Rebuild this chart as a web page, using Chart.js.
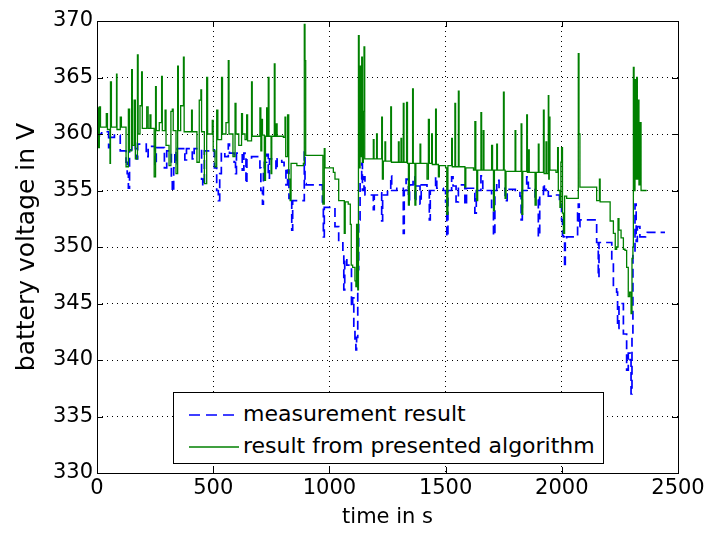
<!DOCTYPE html>
<html>
<head>
<meta charset="utf-8">
<title>battery voltage</title>
<script src="https://cdn.jsdelivr.net/npm/chart.js@4"></script>
<style>
  body { margin: 0; background: #fff; }
  #wrap { position: relative; width: 709px; height: 534px; }
  #legend {
    position: absolute; left: 173px; top: 392px; width: 431px; height: 72px;
    box-sizing: border-box; border: 1px solid #000; background: #fff;
    font-family: "DejaVu Sans", sans-serif; font-size: 22px; color: #000;
  }
  #legend .row { position: absolute; left: 0; height: 30px; line-height: 30px; white-space: nowrap; }
  #legend svg { position: absolute; left: 14px; top: 14px; }
  #legend span { position: absolute; left: 69px; top: 0px; }
</style>
</head>
<body>
<div id="wrap">
  <canvas id="voltChart" width="709" height="534"></canvas>
  <div id="legend">
    <div class="row" style="top:6px">
      <svg width="52" height="4"><line x1="1" y1="2" x2="51" y2="2" stroke="#0000ff" stroke-width="1.5" stroke-dasharray="11,6"/></svg>
      <span>measurement result</span>
    </div>
    <div class="row" style="top:38px">
      <svg width="52" height="4"><line x1="1" y1="2" x2="51" y2="2" stroke="#008000" stroke-width="1.3"/></svg>
      <span>result from presented algorithm</span>
    </div>
  </div>
</div>
<script>
// measured pack voltage (V) over time (s)
const measTime = [
  0, 10, 20, 45, 50, 55, 75, 95, 100, 125, 130, 135, 140, 150, 165, 170, 175, 205, 212, 220,
  245, 250, 255, 285, 290, 300, 320, 324, 330, 335, 340, 345, 370, 378, 385, 405, 410, 418, 450, 455,
  462, 480, 496, 505, 515, 522, 528, 535, 550, 565, 570, 590, 596, 600, 620, 625, 632, 637, 641, 645,
  665, 690, 701, 705, 712, 716, 720, 730, 737, 742, 763, 770, 775, 795, 805, 813, 820, 826, 831, 838,
  842, 885, 892, 895, 900, 960, 970, 974, 978, 1017, 1024, 1040, 1058, 1062, 1066, 1075, 1090, 1095, 1100, 1105,
  1110, 1114, 1117, 1122, 1126, 1132, 1139, 1142, 1149, 1153, 1185, 1189, 1193, 1220, 1225, 1229, 1250, 1264, 1268, 1290,
  1310, 1318, 1322, 1330, 1340, 1345, 1360, 1368, 1372, 1390, 1395, 1420, 1430, 1434, 1457, 1462, 1490, 1500, 1505, 1510,
  1526, 1532, 1545, 1555, 1583, 1590, 1620, 1626, 1632, 1652, 1660, 1690, 1698, 1706, 1712, 1720, 1730, 1756, 1765, 1800,
  1820, 1825, 1830, 1849, 1856, 1885, 1899, 1905, 1921, 1925, 1932, 1942, 1960, 1975, 1990, 1999, 2003, 2007, 2012, 2015,
  2021, 2060, 2068, 2071, 2075, 2078, 2100, 2143, 2150, 2157, 2160, 2205, 2215, 2222, 2236, 2240, 2246, 2258, 2265, 2279,
  2286, 2294, 2298, 2302, 2306, 2315, 2320, 2325, 2336, 2350, 2360, 2368, 2444
];
const measVolt = [
  359.8, 360.0, 360.2, 360.2, 358.8, 359.7, 359.9, 359.9, 358.5, 357.5, 356.5, 355.2, 358.6, 359.2, 358.7, 357.8, 359.1, 359.1, 358.0, 358.9,
  358.9, 357.2, 358.8, 358.8, 357.0, 358.5, 356.0, 354.9, 357.0, 358.5, 357.3, 358.7, 358.7, 357.7, 358.7, 358.7, 357.8, 358.7, 356.0, 355.4,
  358.5, 358.6, 358.6, 357.0, 355.0, 354.1, 356.5, 358.4, 358.0, 359.1, 358.3, 357.5, 356.5, 358.3, 358.3, 356.8, 358.3, 358.1, 355.6, 357.8,
  358.0, 358.0, 357.0, 355.0, 353.8, 356.5, 357.5, 358.2, 356.1, 357.8, 357.8, 356.8, 357.8, 357.5, 357.0, 355.5, 356.8, 354.3, 354.5, 351.5,
  354.1, 354.1, 358.4, 355.6, 355.5, 355.5, 354.0, 350.9, 353.5, 353.5, 351.8, 350.5, 349.4, 346.2, 349.0, 348.4, 348.4, 344.7, 345.5, 343.0,
  341.7, 340.9, 342.0, 348.0, 352.4, 356.0, 357.4, 355.0, 356.2, 354.6, 354.6, 353.3, 354.6, 354.8, 352.3, 354.6, 355.0, 356.3, 355.0, 355.2,
  355.2, 351.2, 355.0, 356.0, 354.2, 355.5, 356.2, 354.0, 355.4, 353.8, 355.5, 355.1, 352.4, 355.0, 356.2, 355.2, 355.0, 354.0, 350.9, 355.0,
  356.2, 355.4, 354.0, 355.5, 353.7, 355.2, 355.0, 353.0, 355.0, 356.3, 355.0, 355.0, 353.5, 351.0, 355.0, 355.9, 355.2, 354.1, 355.1, 355.0,
  354.5, 352.4, 355.0, 356.2, 355.2, 354.2, 350.9, 354.5, 355.6, 355.0, 355.2, 354.5, 354.6, 354.6, 354.0, 352.4, 351.0, 350.9, 348.2, 350.5,
  350.9, 350.9, 353.0, 353.8, 351.8, 352.4, 352.4, 352.3, 350.4, 347.3, 350.4, 350.4, 348.8, 346.5, 346.0, 342.8, 345.0, 345.0, 342.3, 339.1,
  340.6, 340.0, 337.0, 342.0, 349.4, 353.8, 350.5, 351.8, 350.9, 350.9, 351.0, 351.3, 351.3
];

// voltage from the estimation algorithm
const algTime = [
  0, 3, 6, 10, 15, 30, 40, 45, 56, 58, 62, 84, 86, 100, 105, 125, 135, 140, 149, 152,
  160, 165, 174, 177, 185, 192, 195, 214, 220, 228, 232, 246, 252, 255, 268, 278, 281, 293, 297, 310,
  318, 324, 328, 340, 347, 350, 360, 372, 375, 395, 407, 410, 430, 440, 447, 450, 462, 472, 476, 496,
  500, 508, 515, 520, 536, 540, 555, 565, 568, 585, 594, 598, 610, 622, 626, 637, 644, 648, 665, 668,
  701, 705, 709, 712, 720, 725, 730, 733, 737, 740, 749, 752, 763, 766, 770, 775, 802, 809, 812, 820,
  825, 831, 835, 860, 888, 892, 895, 898, 968, 972, 978, 981, 1017, 1024, 1040, 1062, 1064, 1068, 1081, 1090,
  1094, 1100, 1110, 1114, 1117, 1122, 1125, 1128, 1132, 1135, 1139, 1142, 1146, 1149, 1152, 1189, 1192, 1203, 1206, 1225,
  1228, 1232, 1239, 1242, 1264, 1267, 1297, 1300, 1308, 1311, 1318, 1321, 1332, 1336, 1340, 1344, 1358, 1361, 1368, 1372,
  1390, 1393, 1420, 1426, 1430, 1440, 1443, 1457, 1460, 1469, 1473, 1500, 1505, 1510, 1526, 1529, 1540, 1543, 1555, 1558,
  1583, 1587, 1620, 1626, 1630, 1634, 1638, 1652, 1655, 1662, 1665, 1698, 1702, 1706, 1710, 1720, 1723, 1749, 1752, 1756,
  1760, 1799, 1802, 1825, 1828, 1832, 1849, 1852, 1856, 1860, 1885, 1890, 1899, 1902, 1921, 1924, 1932, 1935, 1942, 1944,
  1946, 1949, 1975, 1982, 1985, 1992, 1996, 1999, 2003, 2007, 2012, 2021, 2068, 2071, 2074, 2078, 2143, 2150, 2157, 2162,
  2165, 2205, 2208, 2215, 2222, 2230, 2236, 2242, 2246, 2255, 2265, 2272, 2279, 2286, 2292, 2298, 2302, 2306, 2308, 2311,
  2315, 2318, 2322, 2325, 2329, 2332, 2336, 2341, 2365
];
const algVolt = [
  360.0, 362.3, 358.8, 362.4, 360.6, 360.6, 361.8, 360.4, 357.4, 364.6, 360.6, 365.3, 360.4, 361.5, 360.6, 357.1, 362.2, 358.5, 365.7, 359.0,
  363.0, 357.8, 367.0, 360.0, 362.5, 365.5, 360.5, 362.4, 360.5, 361.7, 360.5, 356.2, 364.2, 360.3, 361.0, 365.1, 360.3, 362.1, 359.0, 357.2,
  362.0, 362.2, 360.3, 356.5, 366.0, 360.3, 362.5, 366.8, 360.2, 360.2, 362.1, 360.2, 357.5, 363.0, 363.9, 360.2, 355.6, 365.0, 360.0, 361.2,
  358.5, 357.1, 362.1, 359.5, 365.0, 360.0, 361.0, 366.5, 360.0, 358.0, 362.7, 360.0, 359.0, 361.8, 360.0, 359.5, 361.7, 359.4, 364.6, 359.8,
  362.3, 358.5, 361.3, 359.9, 355.9, 359.8, 362.3, 359.8, 365.0, 359.8, 356.5, 359.8, 366.2, 359.8, 360.9, 359.8, 359.7, 361.5, 358.0, 361.7,
  356.0, 354.1, 357.4, 357.2, 357.4, 369.7, 366.5, 358.1, 358.1, 353.8, 358.7, 357.0, 356.6, 356.0, 354.1, 354.1, 351.2, 354.0, 353.8, 352.0,
  348.4, 348.2, 347.0, 346.5, 352.0, 346.2, 368.7, 357.0, 366.0, 358.0, 366.8, 357.5, 362.0, 367.7, 357.8, 359.5, 357.8, 360.0, 357.8, 361.5,
  356.0, 357.6, 359.3, 357.6, 362.4, 357.5, 359.3, 357.5, 359.6, 357.5, 362.7, 357.5, 362.8, 357.4, 353.7, 357.4, 364.0, 357.4, 353.7, 357.4,
  359.1, 357.4, 356.0, 361.3, 357.4, 360.0, 357.3, 362.2, 357.3, 356.2, 357.2, 357.0, 352.9, 357.2, 359.6, 357.1, 362.7, 357.1, 363.8, 357.1,
  355.3, 357.0, 356.8, 361.1, 356.8, 354.1, 356.8, 361.9, 356.8, 360.3, 356.8, 359.0, 356.8, 353.2, 356.8, 359.1, 356.8, 363.7, 356.8, 354.3,
  356.7, 360.3, 356.7, 360.9, 352.9, 356.7, 361.7, 356.6, 358.6, 356.6, 353.7, 356.6, 359.1, 356.6, 362.1, 356.5, 359.3, 356.5, 363.4, 356.0,
  361.5, 356.8, 356.6, 358.8, 355.0, 353.5, 357.5, 358.8, 353.0, 351.2, 354.5, 354.3, 354.3, 367.1, 360.0, 355.3, 355.3, 354.1, 354.1, 356.0,
  354.0, 354.0, 352.3, 352.3, 351.2, 349.8, 350.0, 352.5, 351.5, 350.8, 349.8, 349.7, 348.2, 345.6, 346.0, 344.1, 349.0, 350.0, 365.9, 355.0,
  364.8, 356.0, 365.0, 356.0, 363.0, 355.5, 361.0, 355.0, 355.0
];

const xTicks = [0, 500, 1000, 1500, 2000, 2500];
const yTicks = [330, 335, 340, 345, 350, 355, 360, 365, 370];

function toPoints(ts, vs) {
  return ts.map((t, i) => ({x: t, y: vs[i]}));
}

const FONT = {family: 'DejaVu Sans', size: 21};

// axes box with short inward tick marks on all four sides
const boxPlugin = {
  id: 'axesBox',
  afterDatasetsDraw(chart) {
    const {ctx, chartArea: a, scales} = chart;
    ctx.save();
    ctx.strokeStyle = '#000';
    ctx.lineWidth = 1;
    ctx.beginPath();
    scales.x.ticks.forEach(t => {
      const x = Math.round(scales.x.getPixelForValue(t.value)) + 0.5;
      ctx.moveTo(x, a.bottom); ctx.lineTo(x, a.bottom - 6);
      ctx.moveTo(x, a.top); ctx.lineTo(x, a.top + 6);
    });
    scales.y.ticks.forEach(t => {
      const y = Math.round(scales.y.getPixelForValue(t.value)) + 0.5;
      ctx.moveTo(a.left, y); ctx.lineTo(a.left + 6, y);
      ctx.moveTo(a.right, y); ctx.lineTo(a.right - 6, y);
    });
    ctx.stroke();
    ctx.strokeRect(Math.round(a.left) + 0.5, Math.round(a.top) + 0.5,
                   Math.round(a.right - a.left), Math.round(a.bottom - a.top));
    ctx.restore();
  }
};

new Chart(document.getElementById('voltChart'), {
  type: 'line',
  data: {
    datasets: [
      {
        label: 'result from presented algorithm',
        data: toPoints(algTime, algVolt),
        borderColor: '#008000',
        borderWidth: 1.3,
        pointRadius: 0,
        stepped: true,
        order: 0
      },
      {
        label: 'measurement result',
        data: toPoints(measTime, measVolt),
        borderColor: '#0000ff',
        borderWidth: 1.7,
        borderDash: [9, 5],
        pointRadius: 0,
        stepped: true,
        order: 1
      }
    ]
  },
  options: {
    responsive: false,
    devicePixelRatio: 1,
    animation: false,
    layout: {padding: {top: 21, right: 31, left: 0, bottom: 0}},
    plugins: {legend: {display: false}, tooltip: {enabled: false}},
    scales: {
      x: {
        type: 'linear',
        min: xTicks[0],
        max: xTicks[xTicks.length - 1],
        afterBuildTicks: s => { s.ticks = xTicks.map(v => ({value: v})); },
        afterFit: s => { s.height = 61; },
        ticks: {color: '#000', font: FONT, padding: 3, maxRotation: 0, autoSkip: false, callback: v => String(v)},
        grid: {color: '#000', lineWidth: 1, drawTicks: false},
        border: {display: false, dash: [1, 4]},
        title: {display: true, text: 'time in s', color: '#000', font: FONT, padding: {top: 0, bottom: 4}}
      },
      y: {
        min: yTicks[0],
        max: yTicks[yTicks.length - 1],
        afterBuildTicks: s => { s.ticks = yTicks.map(v => ({value: v})); },
        afterFit: s => { s.width = 97; },
        ticks: {color: '#000', font: FONT, padding: 4, autoSkip: false, callback: v => String(v)},
        grid: {color: '#000', lineWidth: 1, drawTicks: false},
        border: {display: false, dash: [1, 4]},
        title: {display: true, text: 'battery voltage in V', color: '#000',
                font: {family: 'DejaVu Sans', size: 25}, padding: {top: 12, bottom: 0}}
      }
    }
  },
  plugins: [boxPlugin]
});
</script>
</body>
</html>
